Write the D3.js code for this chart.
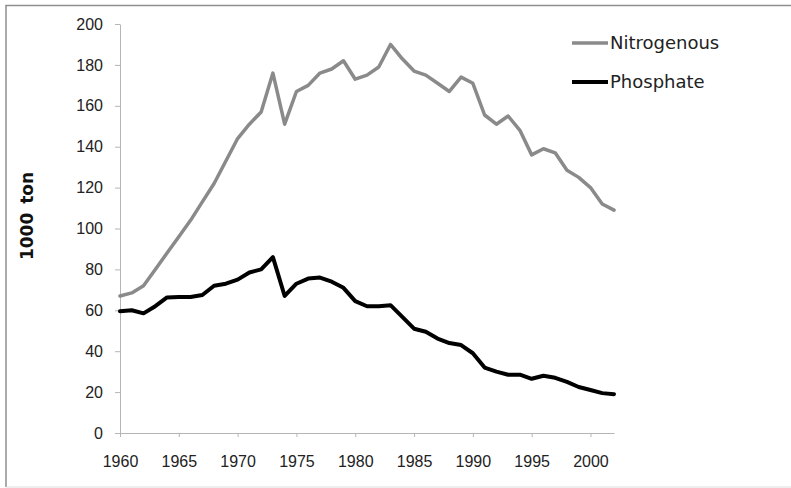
<!DOCTYPE html>
<html>
<head>
<meta charset="utf-8">
<script src="https://cdn.jsdelivr.net/npm/d3@7"></script>
<style>
  body { margin: 0; background: #fff; }
  svg { display: block; font-family: "DejaVu Sans", Verdana, sans-serif; }
  .axis path, .axis line { stroke: #b5b5b5; }
  .axis text { fill: #222; font-size: 16px; }
</style>
</head>
<body>
<script>
// years 1960 - 2002
var years = d3.range(1960, 2003);

var nitrogenous = [67, 68.5, 72, 80, 88, 96, 104, 113, 122, 133,
                   144, 151, 157, 176, 151, 167, 170, 176, 178, 182,
                   173, 175, 179, 190, 183, 177, 175, 171, 167, 174,
                   171, 155.5, 151, 155, 148, 136, 139, 137, 128.5, 125,
                   120, 112, 109];

var phosphate = [59.5, 60, 58.5, 62, 66.3, 66.5, 66.5, 67.5, 72, 73,
                 75, 78.5, 80, 86, 67, 73, 75.5, 76, 74, 71,
                 64.5, 62, 62, 62.5, 56.8, 51, 49.5, 46.2, 44, 43,
                 39, 32, 30, 28.5, 28.5, 26.5, 28, 27, 25, 22.5,
                 21, 19.5, 19];

var yTicks = [0, 20, 40, 60, 80, 100, 120, 140, 160, 180, 200];
var xTicks = [1960, 1965, 1970, 1975, 1980, 1985, 1990, 1995, 2000];

var seriesNames = ["Nitrogenous", "Phosphate"];
var seriesColors = ["#8a8a8a", "#000000"];
var seriesWidths = [3.5, 4];

var width = 791, height = 488;

var svg = d3.select("body").append("svg")
    .attr("width", width)
    .attr("height", height);

// outer frame: top and left clear, bottom faint, right runs off the picture
svg.append("path")
    .attr("d", "M6,487V5.5H791")
    .attr("fill", "none")
    .attr("stroke", "#8f8f8f")
    .attr("stroke-width", 1.5);
svg.append("line")
    .attr("x1", 6).attr("x2", 791)
    .attr("y1", 487).attr("y2", 487)
    .attr("stroke", "#dcdcdc");

var x = d3.scaleLinear().domain([1960, 2002]).range([120, 614]);
var y = d3.scaleLinear().domain([0, 200]).range([433, 24]);

svg.append("g")
    .attr("class", "axis")
    .attr("transform", "translate(120,0)")
    .call(d3.axisLeft(y).tickValues(yTicks).tickSize(5).tickSizeOuter(0).tickPadding(12));

svg.append("g")
    .attr("class", "axis")
    .attr("transform", "translate(0,433)")
    .call(d3.axisBottom(x).tickValues(xTicks).tickFormat(d3.format("d"))
      .tickSize(4).tickSizeOuter(0).tickPadding(19));

// y title
svg.append("text")
    .attr("transform", "translate(33,216) rotate(-90)")
    .attr("text-anchor", "middle")
    .attr("font-weight", "bold")
    .attr("font-size", 17)
    .attr("fill", "#111")
    .attr("word-spacing", 3)
    .text("1000 ton");

var line = d3.line()
    .x(function(d, i) { return x(years[i]); })
    .y(function(d) { return y(d); });

[nitrogenous, phosphate].forEach(function(s, k) {
  svg.append("path")
      .datum(s)
      .attr("d", line)
      .attr("fill", "none")
      .attr("stroke", seriesColors[k])
      .attr("stroke-width", seriesWidths[k])
      .attr("stroke-linejoin", "round")
      .attr("stroke-linecap", "round");
});

// legend
var legend = svg.append("g").selectAll("g")
    .data(seriesNames)
  .enter().append("g")
    .attr("transform", function(d, i) { return "translate(572," + (43 + i * 39) + ")"; });

legend.append("line")
    .attr("x1", 0).attr("x2", 36)
    .attr("stroke", function(d, i) { return seriesColors[i]; })
    .attr("stroke-width", function(d, i) { return seriesWidths[i]; });

legend.append("text")
    .attr("x", 38)
    .attr("dy", "0.36em")
    .attr("font-size", 18)
    .attr("fill", "#222")
    .text(function(d) { return d; });
</script>
</body>
</html>
